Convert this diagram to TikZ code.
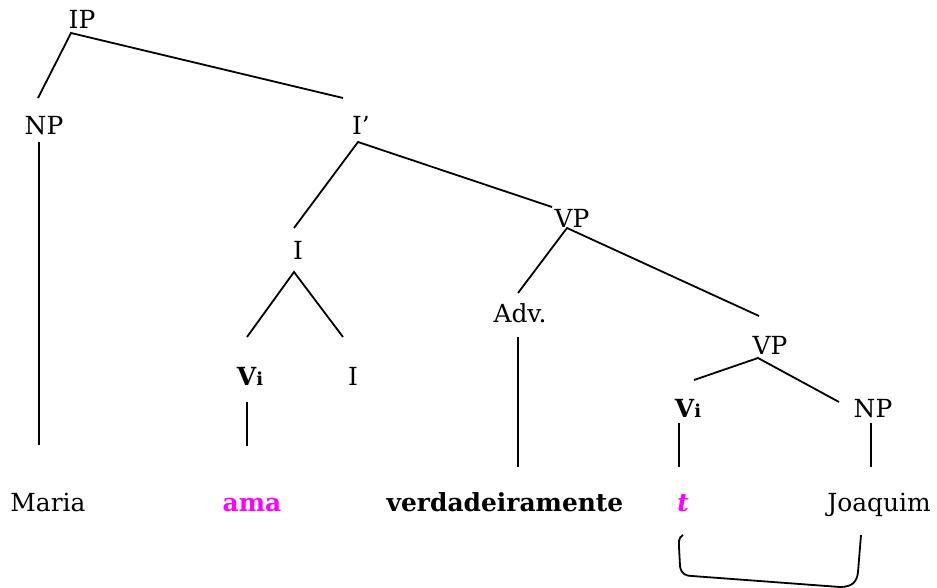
\documentclass[tikz,border=0pt]{standalone}
\usepackage{fontspec}
\setmainfont{DejaVu Serif}
\definecolor{mag}{RGB}{255,0,255}
\newcommand{\Vi}{\textbf{V{\fontsize{18}{20}\selectfont i}}}
\begin{document}
\begin{tikzpicture}[x=1bp,y=-1bp,
  lab/.style={anchor=base,inner sep=0pt,font=\fontsize{25}{30}\selectfont},
  edge/.style={line width=1.8bp}]
\useasboundingbox (0,0) rectangle (937,588);
% labels
\node[lab] (ip) at (82,29) {IP};
\node[lab] (np) at (44,135) {NP};
\node[lab] (ibar) at (361,135) {I’};
\node[lab] (i) at (298,260) {I};
\node[lab] (vp) at (572,228) {VP};
\node[lab] (adv) at (520,322) {Adv.};
\node[lab] (vp2) at (770,354) {VP};
\node[lab] (vi) at (250,385) {\Vi};
\node[lab] (i2) at (353,385) {I};
\node[lab] (vi2) at (688,417) {\Vi};
\node[lab] (np2) at (873,417) {NP};
\node[lab] (maria) at (48,511) {Maria};
\node[lab,text=mag] (ama) at (252,511) {\textbf{ama}};
\node[lab] (verd) at (505,511) {\textbf{verdadeiramente}};
\node[lab,text=mag] (t) at (683,511) {\textbf{\textit{t}}};
\node[lab] (jo) at (879,511) {Joaquim};
% connector ends
\coordinate (ipB) at (71,33);
\coordinate (npT) at (38,98);
\coordinate (ibT) at (343,98);
\coordinate (npB) at (39,142);
\coordinate (mariaT) at (39,445);
\coordinate (ibB) at (358,142);
\coordinate (iT) at (294,228);
\coordinate (vpT) at (552,207);
\coordinate (iB) at (294,272);
\coordinate (viT) at (247,337);
\coordinate (i2T) at (343,337);
\coordinate (vpB) at (567,228);
\coordinate (advT) at (518,293);
\coordinate (vp2T) at (759,316);
\coordinate (viB) at (247,402);
\coordinate (amaT) at (247,446);
\coordinate (advB) at (518,337);
\coordinate (verdT) at (518,467);
\coordinate (vp2B) at (758,358);
\coordinate (vi2T) at (694,380);
\coordinate (np2T) at (839,402);
\coordinate (vi2B) at (679,423);
\coordinate (tT) at (679,467);
\coordinate (np2B) at (871,423);
\coordinate (joT) at (871,467);
\coordinate (brL) at (683,535);
\coordinate (brR) at (861,535);
% edges
\draw[edge] (npT) -- (ipB) -- (ibT);
\draw[edge] (npB) -- (mariaT);
\draw[edge] (iT) -- (ibB) -- (vpT);
\draw[edge] (viT) -- (iB) -- (i2T);
\draw[edge] (advT) -- (vpB) -- (vp2T);
\draw[edge] (viB) -- (amaT);
\draw[edge] (advB) -- (verdT);
\draw[edge] (vi2T) -- (vp2B) -- (np2T);
\draw[edge] (vi2B) -- (tT);
\draw[edge] (np2B) -- (joT);
\draw[edge] (brL) .. controls (678,538) and (679,542) .. (679,547)
  -- (680,566) .. controls (681,574) and (686,576) .. (692,576)
  -- (840,587) .. controls (852,587) and (857,582) .. (858,572) -- (brR);
\end{tikzpicture}
\end{document}
